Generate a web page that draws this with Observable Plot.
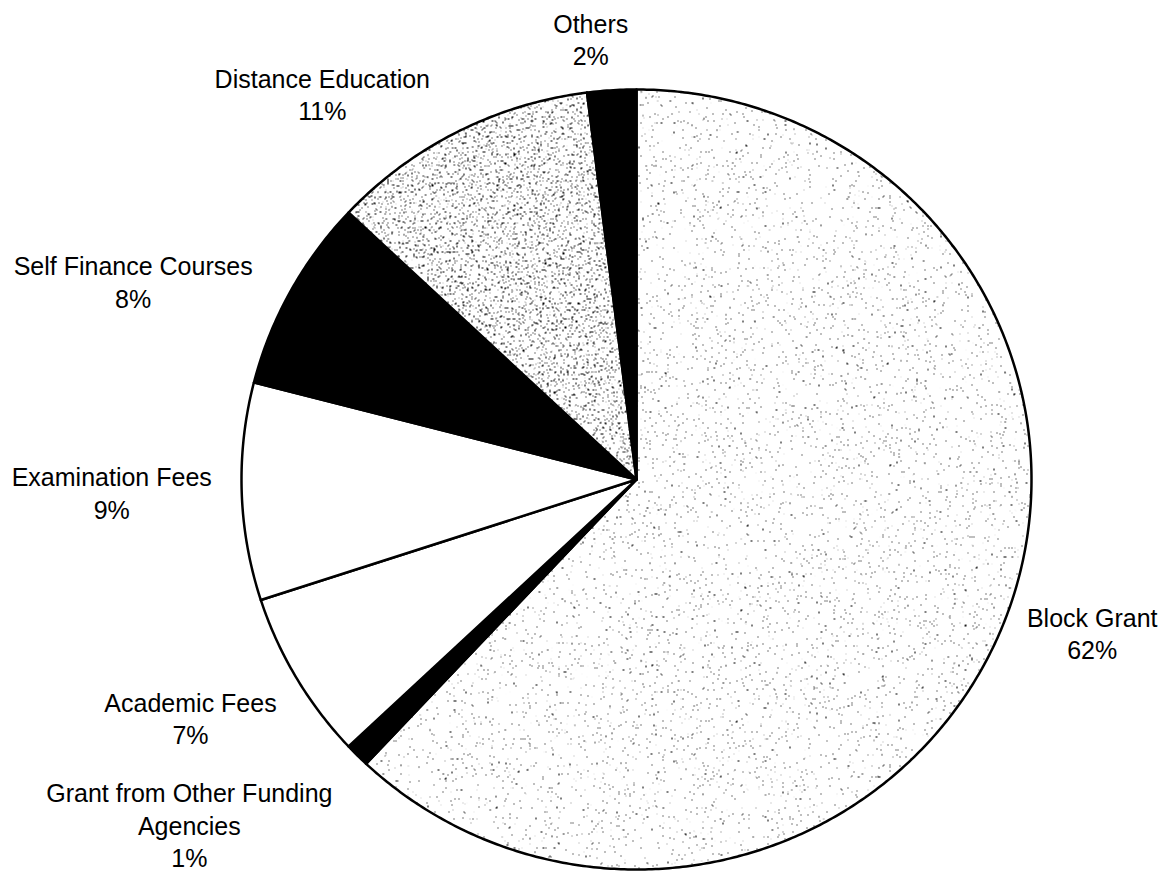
<!DOCTYPE html>
<html>
<head>
<meta charset="utf-8">
<script src="https://cdn.jsdelivr.net/npm/d3@7"></script>
<script src="https://cdn.jsdelivr.net/npm/@observablehq/plot@0.6"></script>
<style>
  html, body { margin: 0; padding: 0; background: #ffffff; }
  #chart svg { display: block; }
</style>
</head>
<body>
<div id="chart"></div>
<script>
// ---- data ----
const categories = [
  "Block Grant",
  "Grant from Other Funding Agencies",
  "Academic Fees",
  "Examination Fees",
  "Self Finance Courses",
  "Distance Education",
  "Others"
];
const shares = [62, 1, 7, 9, 8, 11, 2];           // percent, clockwise from 12 o'clock
const labelText = [
  "Block Grant",
  "Grant from Other Funding\nAgencies",
  "Academic Fees",
  "Examination Fees",
  "Self Finance Courses",
  "Distance Education",
  "Others"
];

// ---- styles / layout (not data) ----
const sliceFills = ["url(#speckleLight)", "black", "white", "white", "black", "url(#speckleDense)", "black"];
const labelNudge = [[15, -19], [-112, 14], [-38, 0], [-51, -2], [-88, 27], [-99, 31], [-16, 26]]; // px, from mid-angle anchor

const W = 1174, H = 871;
const cx = 636, cy = 479, rx = 395, ry = 390;   // pie centre and radius in px
const labelRadius = 1.2;

// ---- build slice polygons from the shares ----
const total = d3.sum(shares);
let acc = 0;
const slices = shares.map((v, i) => {
  const a0 = acc / total * 2 * Math.PI;
  acc += v;
  const a1 = acc / total * 2 * Math.PI;
  return {i, a0, a1, mid: (a0 + a1) / 2};
});

const slicePts = [];
for (const s of slices) {
  slicePts.push({k: s.i, x: 0, y: 0, fill: sliceFills[s.i]});
  const n = Math.max(2, Math.ceil((s.a1 - s.a0) / (Math.PI / 360)));
  for (let j = 0; j <= n; j++) {
    const a = s.a0 + (s.a1 - s.a0) * j / n;
    slicePts.push({k: s.i, x: Math.sin(a), y: Math.cos(a), fill: sliceFills[s.i]});
  }
}

const labels = slices.map(s => ({
  x: labelRadius * Math.sin(s.mid) + labelNudge[s.i][0] / rx,
  y: labelRadius * Math.cos(s.mid) - labelNudge[s.i][1] / ry,
  text: `${labelText[s.i]}\n${shares[s.i]}%`
}));

const svg = Plot.plot({
  width: W,
  height: H,
  margin: 0,
  style: {background: "white"},
  x: {domain: [-cx / rx, (W - cx) / rx], range: [0, W], axis: null},
  y: {domain: [-(H - cy) / ry, cy / ry], range: [H, 0], axis: null},
  color: {type: "identity"},
  marks: [
    Plot.line(slicePts, {
      x: "x", y: "y", z: "k", fill: "fill",
      stroke: "black", strokeWidth: 2.5, strokeLinejoin: "round",
      curve: "linear-closed"
    }),
    Plot.text(labels, {
      x: "x", y: "y", text: "text",
      fontSize: 25, lineHeight: 1.3,
      fontFamily: "'Liberation Sans', Arial, Helvetica, sans-serif",
      fill: "black", textAnchor: "middle", lineAnchor: "middle"
    })
  ]
});

// speckle textures imitating the scanned grey shading
d3.select(svg).insert("defs", ":first-child").html(`
  <filter id="nL" filterUnits="userSpaceOnUse" x="0" y="0" width="${W}" height="${H}" color-interpolation-filters="sRGB">
    <feTurbulence type="fractalNoise" baseFrequency="0.45" numOctaves="4" seed="11" result="t"/>
    <feColorMatrix in="t" type="matrix" values="0 0 0 0 0  0 0 0 0 0  0 0 0 0 0  40 0 0 0 -29.8"/>
  </filter>
  <filter id="nD" filterUnits="userSpaceOnUse" x="0" y="0" width="${W}" height="${H}" color-interpolation-filters="sRGB">
    <feTurbulence type="fractalNoise" baseFrequency="0.45" numOctaves="4" seed="5" result="t"/>
    <feColorMatrix in="t" type="matrix" values="0 0 0 0 0  0 0 0 0 0  0 0 0 0 0  40 0 0 0 -26.4"/>
  </filter>
  <pattern id="speckleLight" patternUnits="userSpaceOnUse" x="0" y="0" width="${W}" height="${H}">
    <rect width="${W}" height="${H}" fill="white"/>
    <rect width="${W}" height="${H}" fill="black" filter="url(#nL)"/>
  </pattern>
  <pattern id="speckleDense" patternUnits="userSpaceOnUse" x="0" y="0" width="${W}" height="${H}">
    <rect width="${W}" height="${H}" fill="white"/>
    <rect width="${W}" height="${H}" fill="black" filter="url(#nD)"/>
  </pattern>
`);

document.getElementById("chart").appendChild(svg);
</script>
</body>
</html>
